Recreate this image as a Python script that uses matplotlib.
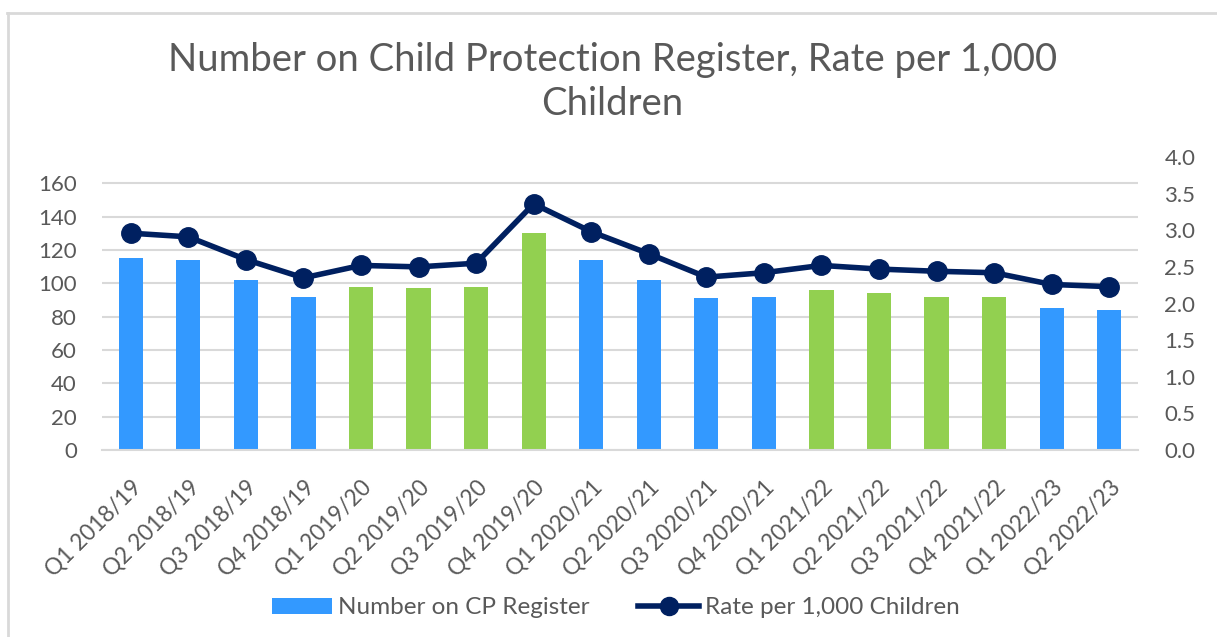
import matplotlib
matplotlib.use("Agg")
import matplotlib.pyplot as plt
import numpy as np
from matplotlib.patches import Patch
from matplotlib.lines import Line2D

plt.rcParams['font.family'] = ['Lato', 'DejaVu Sans']

categories = ["Q1 2018/19", "Q2 2018/19", "Q3 2018/19", "Q4 2018/19",
              "Q1 2019/20", "Q2 2019/20", "Q3 2019/20", "Q4 2019/20",
              "Q1 2020/21", "Q2 2020/21", "Q3 2020/21", "Q4 2020/21",
              "Q1 2021/22", "Q2 2021/22", "Q3 2021/22", "Q4 2021/22",
              "Q1 2022/23", "Q2 2022/23"]
number_on_register = [115, 114, 102, 92, 98, 97, 98, 130, 114, 102, 91, 92,
                      96, 94, 92, 92, 85, 84]
rate_per_1000 = [2.96, 2.91, 2.60, 2.35, 2.52, 2.50, 2.55, 3.36, 2.98, 2.68,
                 2.36, 2.42, 2.52, 2.47, 2.44, 2.42, 2.26, 2.23]
# colour group per bar: 'b' blue, 'g' green
bar_groups = ['b', 'b', 'b', 'b', 'g', 'g', 'g', 'g', 'b', 'b', 'b', 'b',
              'g', 'g', 'g', 'g', 'b', 'b']

BLUE = '#3399FF'
GREEN = '#92D050'
NAVY = '#002060'
GREY_TXT = '#595959'
GRID = '#D9D9D9'
W, H = 1217, 637

fig = plt.figure(figsize=(12.17, 6.37), dpi=100)
# chart frame (top and left edges visible)
fig.add_artist(Line2D([7 / W, 1.0], [1 - 13 / H, 1 - 13 / H], transform=fig.transFigure,
                      color=GRID, linewidth=2))
fig.add_artist(Line2D([8 / W, 8 / W], [0.0, 1 - 13 / H], transform=fig.transFigure,
                      color=GRID, linewidth=2))

ax = fig.add_axes([102 / W, 1 - 450 / H, (1138 - 102) / W, (450 - 157) / H])
x = np.arange(len(categories))
colors = [BLUE if g == 'b' else GREEN for g in bar_groups]
ax.bar(x, number_on_register, width=0.42, color=colors, zorder=2)
ax.set_xlim(-0.5, len(categories) - 0.5)
ax.set_ylim(0, 175.7)
ax.set_yticks(np.arange(0, 161, 20))
ax.yaxis.grid(True, color=GRID, linewidth=1.5, zorder=0)
ax.set_axisbelow(True)
for s in ['top', 'right', 'left']:
    ax.spines[s].set_visible(False)
ax.spines['bottom'].set_color(GRID)
ax.spines['bottom'].set_linewidth(1.5)
ax.tick_params(axis='y', length=0, labelsize=16, labelcolor=GREY_TXT, pad=18)
ax.tick_params(axis='x', length=0, labelsize=16.3, labelcolor=GREY_TXT, pad=19)
ax.set_xticks(x)
ax.set_xticklabels(categories, rotation=45, ha='right', rotation_mode='anchor')

ax2 = ax.twinx()
ax2.plot(x, rate_per_1000, color=NAVY, linewidth=4, marker='o', markersize=14, zorder=3)
ax2.set_ylim(0, 4.0)
ax2.set_yticks(np.arange(0, 4.01, 0.5))
ax2.set_yticklabels([f"{v:.1f}" for v in np.arange(0, 4.01, 0.5)])
for s in ['top', 'right', 'left', 'bottom']:
    ax2.spines[s].set_visible(False)
ax2.tick_params(axis='y', length=0, labelsize=16, labelcolor=GREY_TXT, pad=19)

fig.text(0.503, 1 - 71 / H, "Number on Child Protection Register, Rate per 1,000",
         ha='center', va='baseline', fontsize=27.5, color=GREY_TXT)
fig.text(0.503, 1 - 115 / H, "Children",
         ha='center', va='baseline', fontsize=27.5, color=GREY_TXT)

handles = [Patch(facecolor=BLUE, edgecolor='none'),
           Line2D([0], [0], color=NAVY, linewidth=4, marker='o', markersize=13)]
leg = fig.legend(handles, ["Number on CP Register", "Rate per 1,000 Children"],
                 loc='center', bbox_to_anchor=(0.506, 1 - 608 / H), ncol=2,
                 frameon=False, fontsize=17.5, handlelength=2.5, handleheight=0.6,
                 columnspacing=2.0, handletextpad=0.25)
for t in leg.get_texts():
    t.set_color(GREY_TXT)

fig.savefig("out.png", dpi=100)
